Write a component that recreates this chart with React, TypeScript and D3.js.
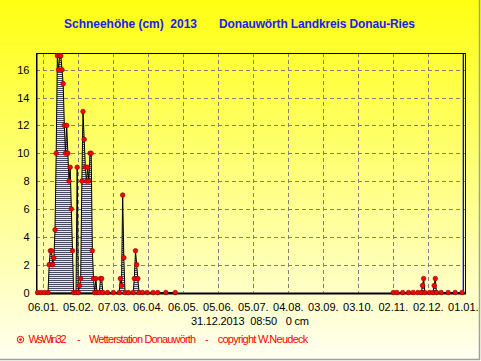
import React, { useEffect, useRef } from 'react';
import * as d3 from 'd3';

// day of year (0 = 01.01.2013) and snow depth in cm
const dayOfYear = [
  0, 3, 6, 9, 10, 11, 12, 13, 14, 15, 16, 17, 18, 19, 20, 21, 22, 23, 24, 25,
  26, 27, 28, 29, 30, 31, 33, 34, 35, 36, 37, 38, 39, 40, 41, 42, 43, 44, 45, 46,
  47, 48, 49, 50, 51, 53, 54, 55, 56, 60, 65, 70, 71, 72, 73, 74, 75, 78, 82, 83,
  84, 85, 86, 87, 90, 94, 99, 103, 110, 118,
  305, 308, 313, 318, 322, 326, 329, 330, 331, 332, 336, 339, 340, 341, 342, 346,
  352, 358, 364,
];
const snowCm = [
  0, 0, 0, 0, 2, 3, 3, 2, 2.5, 4.5, 10, 17, 16, 17, 17, 16, 15, 12, 10, 12,
  10, 8, 9, 6, 3, 0, 0, 9, 0, 0.5, 1, 8, 13, 11, 9, 8, 9, 8, 10, 10,
  3, 1, 0, 1, 0, 0, 1, 1, 0, 0, 0, 0, 1, 0.5, 7, 2.5, 0, 0, 0, 1,
  3, 2, 1, 0, 0, 0, 0, 0, 0, 0,
  0, 0, 0, 0, 0, 0, 0, 0.5, 1, 0, 0, 0, 0.5, 1, 0, 0,
  0, 0, 0,
];

const xTickDays = [5, 35, 65, 95, 125, 155, 185, 215, 245, 275, 305, 335, 365];
const xTickLabels = ['06.01.', '05.02.', '07.03.', '06.04.', '06.05.', '05.06.', '05.07.', '04.08.', '03.09.', '03.10.', '02.11.', '02.12.', '01.01.'];
const yTicks = [0, 2, 4, 6, 8, 10, 12, 14, 16];

const titleLeft = 'Schneehöhe (cm)  2013';
const titleRight = 'Donauwörth Landkreis Donau-Ries';
const lastReading = '31.12.2013  08:50   0 cm';
const footerParts = ['WsWin32', '-', 'Wetterstation Donauwörth', '-', 'copyright W.Neudeck'];

const SnowChart = () => {
  const svgRef = useRef<SVGSVGElement>(null);

  useEffect(() => {
    const svg = d3.select(svgRef.current);
    svg.selectAll('*').remove();

    const width = 481;
    const height = 361;
    const plot = { left: 36, right: 466, top: 53, bottom: 292.5 };
    const font = 'Liberation Sans, Arial, sans-serif';

    const x = d3.scaleLinear().domain([-1.3, 367.3]).range([plot.left, plot.right]);
    const y = d3.scaleLinear().domain([0, 17.2]).range([plot.bottom, plot.top]);

    const defs = svg.append('defs');
    const grad = defs.append('linearGradient')
      .attr('id', 'bg').attr('x1', 0).attr('y1', 0).attr('x2', 0).attr('y2', 1);
    grad.append('stop').attr('offset', '0%').attr('stop-color', '#ffff12');
    grad.append('stop').attr('offset', '100%').attr('stop-color', '#fffff2');

    const hatch = defs.append('pattern')
      .attr('id', 'hatch').attr('patternUnits', 'userSpaceOnUse')
      .attr('width', 4).attr('height', 2);
    hatch.append('rect').attr('width', 4).attr('height', 2).attr('fill', '#e6e6fa');
    hatch.append('rect').attr('width', 4).attr('height', 1).attr('fill', '#4a4a62');

    svg.append('rect').attr('width', width).attr('height', height).attr('fill', 'url(#bg)');

    // outer frame
    svg.append('line').attr('x1', 479.5).attr('x2', 479.5).attr('y1', 0).attr('y2', 360)
      .attr('stroke', '#a0a0a0').attr('stroke-width', 1.5);
    svg.append('line').attr('x1', 0).attr('x2', 480).attr('y1', 359.5).attr('y2', 359.5)
      .attr('stroke', '#a0a0a0').attr('stroke-width', 1.5);

    // title
    svg.append('text').attr('x', 64).attr('y', 28)
      .attr('font-family', font).attr('font-size', 12).attr('font-weight', 'bold')
      .attr('fill', '#2020f0').style('white-space', 'pre')
      .attr('textLength', 133)
      .text(titleLeft);
    svg.append('text').attr('x', 219).attr('y', 28)
      .attr('font-family', font).attr('font-size', 12).attr('font-weight', 'bold')
      .attr('fill', '#2020f0')
      .attr('textLength', 196)
      .text(titleRight);

    // grid
    svg.append('g').selectAll('line').data(yTicks.filter(d => d > 0)).enter().append('line')
      .attr('x1', plot.left).attr('x2', plot.right)
      .attr('y1', d => Math.round(y(d)) + 0.5).attr('y2', d => Math.round(y(d)) + 0.5)
      .attr('stroke', '#808080').attr('stroke-dasharray', '4,3');
    svg.append('g').selectAll('line').data(xTickDays).enter().append('line')
      .attr('x1', d => Math.round(x(d)) + 0.5).attr('x2', d => Math.round(x(d)) + 0.5)
      .attr('y1', plot.top).attr('y2', plot.bottom)
      .attr('stroke', '#808080').attr('stroke-dasharray', '4,3');

    // snow depth
    const points = dayOfYear.map((d, i) => ({ day: d, v: snowCm[i] }));
    const segments = [points.filter(p => p.day < 180), points.filter(p => p.day >= 180)];

    const area = d3.area<{ day: number; v: number }>()
      .x(d => x(d.day))
      .y0(y(0))
      .y1(d => y(d.v));
    const line = d3.line<{ day: number; v: number }>()
      .x(d => x(d.day))
      .y(d => y(d.v));

    segments.forEach(seg => {
      svg.append('path').datum(seg).attr('d', area).attr('fill', 'url(#hatch)');
      svg.append('path').datum(seg).attr('d', line)
        .attr('fill', 'none').attr('stroke', '#000').attr('stroke-width', 1);
    });

    // plot frame
    svg.append('line').attr('x1', plot.left).attr('x2', plot.right).attr('y1', 53.5).attr('y2', 53.5)
      .attr('stroke', '#000').attr('stroke-width', 1);
    svg.append('line').attr('x1', 465.5).attr('x2', 465.5).attr('y1', plot.top).attr('y2', 294)
      .attr('stroke', '#000').attr('stroke-width', 1);
    svg.append('line').attr('x1', x(365)).attr('x2', x(365)).attr('y1', plot.top + 1).attr('y2', plot.bottom)
      .attr('stroke', '#0000ff').attr('stroke-width', 1.3);
    svg.append('line').attr('x1', 36.75).attr('x2', 36.75).attr('y1', plot.top).attr('y2', 294.5)
      .attr('stroke', '#000').attr('stroke-width', 1.5);
    svg.append('line').attr('x1', 36).attr('x2', 466).attr('y1', 293.5).attr('y2', 293.5)
      .attr('stroke', '#000').attr('stroke-width', 2);

    svg.append('g').selectAll('circle').data(points).enter().append('circle')
      .attr('cx', d => x(d.day)).attr('cy', d => y(d.v)).attr('r', 2.3)
      .attr('fill', '#ff0000').attr('stroke', '#8a0000').attr('stroke-width', 0.6);

    // axis labels
    svg.append('g').selectAll('text').data(yTicks).enter().append('text')
      .attr('x', 29.5).attr('y', d => y(d) + 4)
      .attr('text-anchor', 'end')
      .attr('font-family', font).attr('font-size', 11).attr('fill', '#000')
      .text(d => d);
    svg.append('g').selectAll('text').data(xTickDays).enter().append('text')
      .attr('x', d => x(d)).attr('y', 311)
      .attr('text-anchor', 'middle')
      .attr('font-family', font).attr('font-size', 11).attr('fill', '#000')
      .text((_, i) => xTickLabels[i]);

    svg.append('text').attr('x', 191).attr('y', 325)
      .attr('font-family', font).attr('font-size', 11).attr('fill', '#000')
      .style('white-space', 'pre').attr('textLength', 118)
      .text(lastReading);

    // footer
    svg.append('circle').attr('cx', 20.5).attr('cy', 339.5).attr('r', 3.2)
      .attr('fill', 'none').attr('stroke', '#ff0000').attr('stroke-width', 1);
    svg.append('circle').attr('cx', 20.5).attr('cy', 339.5).attr('r', 1.3).attr('fill', '#ff0000');
    const footerX = [28.5, 77, 89, 205, 217.7];
    const footerW = [38, 0, 107, 0, 90.6];
    footerParts.forEach((t, i) => {
      const el = svg.append('text').attr('x', footerX[i]).attr('y', 343)
        .attr('font-family', font).attr('font-size', 11).attr('fill', '#ff0000')
        .text(t);
      if (footerW[i] > 0) el.attr('textLength', footerW[i]);
    });
  }, []);

  return (
    <svg ref={svgRef} width="481" height="361"
      style={{ position: 'absolute', left: 0, top: 0, display: 'block' }} />
  );
};

export default function App() {
  return <SnowChart />;
}
